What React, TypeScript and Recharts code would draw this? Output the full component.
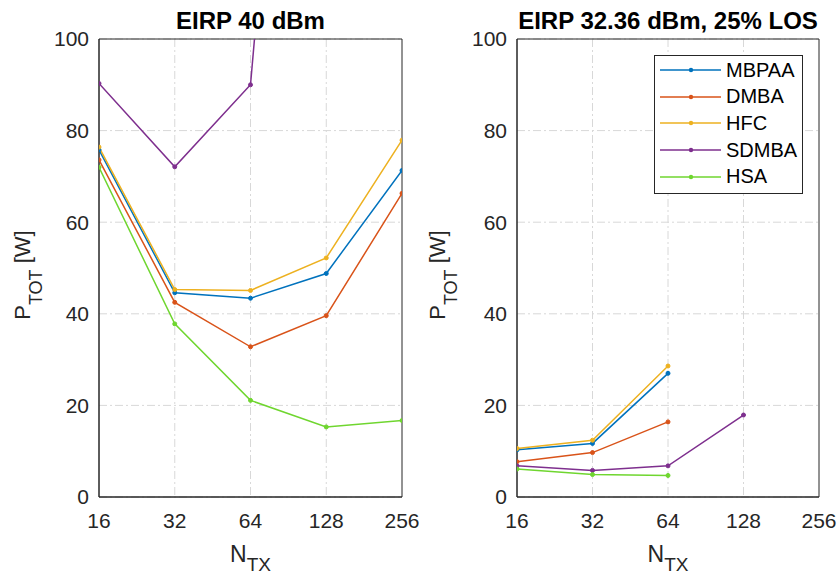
import { CartesianGrid, Line, LineChart, ReferenceArea, XAxis, YAxis } from "recharts";

const nTx = [16, 32, 64, 128, 256];
const yTicks = [0, 20, 40, 60, 80, 100];

const seriesNames = ["MBPAA", "DMBA", "HFC", "SDMBA", "HSA"];
const seriesColors = ["#0072BD", "#D95319", "#EDB120", "#7E2F8E", "#6FD62F"];

// EIRP 40 dBm
const mbpaa40 = [75.8, 44.6, 43.4, 48.8, 71.3];
const dmba40 = [73.6, 42.5, 32.8, 39.6, 66.3];
const hfc40 = [76.4, 45.3, 45.1, 52.2, 77.9];
const sdmba40 = [90.3, 72.1, 90.0, 280, null];
const hsa40 = [72.0, 37.8, 21.1, 15.3, 16.7];

// EIRP 32.36 dBm, 25% LOS
const mbpaa32 = [10.3, 11.7, 27.0, null, null];
const dmba32 = [7.7, 9.7, 16.4, null, null];
const hfc32 = [10.6, 12.4, 28.6, null, null];
const sdmba32 = [6.8, 5.8, 6.8, 17.9, null];
const hsa32 = [6.1, 4.9, 4.7, null, null];

const FONT = '"Liberation Sans", Arial, Helvetica, sans-serif';
const TEXT = "#262626";

type Row = Record<string, number | null>;

function buildRows(series: (number | null)[][]): Row[] {
  return nTx.map((n, i) => {
    const row: Row = { n };
    seriesNames.forEach((name, k) => {
      row[name] = series[k][i];
    });
    return row;
  });
}

const rows40 = buildRows([mbpaa40, dmba40, hfc40, sdmba40, hsa40]);
const rows32 = buildRows([mbpaa32, dmba32, hfc32, sdmba32, hsa32]);

// legend drawn by hand so it doesn't eat into the plot area
function LegendBox({ left, top }: { left: number; top: number }) {
  return (
    <div
      style={{
        position: "absolute",
        left,
        top,
        width: 147,
        border: `1px solid ${TEXT}`,
        background: "#fff",
        padding: "1px 0 3px 0",
        fontFamily: FONT,
        fontSize: 20,
        color: "#000",
      }}
    >
      {seriesNames.map((name, k) => (
        <div key={name} style={{ display: "flex", alignItems: "center", height: 26.6 }}>
          <svg width={70} height={10} style={{ display: "block" }}>
            <line x1={5} x2={66} y1={5} y2={5} stroke={seriesColors[k]} strokeWidth={1.5} />
            <circle cx={36} cy={5} r={2.2} fill={seriesColors[k]} />
          </svg>
          <span style={{ marginLeft: 1 }}>{name}</span>
        </div>
      ))}
    </div>
  );
}

function Panel({
  rows,
  title,
  plotLeft,
  plotWidth,
  yLabelX,
  legend,
}: {
  rows: Row[];
  title: string;
  plotLeft: number;
  plotWidth: number;
  yLabelX: number;
  legend?: boolean;
}) {
  const width = 420;
  const height = 578;
  const top = 39;
  const bottom = 497;
  const cx = plotLeft + plotWidth / 2;
  const cy = (top + bottom) / 2 + 7;
  return (
    <div style={{ position: "relative", width, height }}>
      <div
        style={{
          position: "absolute",
          left: cx - 200,
          width: 400,
          top: 7,
          lineHeight: "28px",
          textAlign: "center",
          fontFamily: FONT,
          fontWeight: "bold",
          fontSize: 24,
          color: "#000",
          whiteSpace: "nowrap",
        }}
      >
        {title}
      </div>
      <LineChart
        width={width}
        height={height}
        data={rows}
        margin={{ top, left: 0, right: width - plotLeft - plotWidth, bottom: 0 }}
        style={{ fontFamily: FONT }}
      >
        <CartesianGrid
          stroke="#d8d8d8"
          strokeDasharray="8 3 2 3"
          verticalValues={[32, 64, 128]}
        />
        <XAxis
          dataKey="n"
          type="number"
          scale="log"
          domain={[16, 256]}
          ticks={nTx}
          allowDataOverflow
          height={height - bottom}
          tickLine={false}
          tickSize={0}
          tickMargin={16}
          axisLine={{ stroke: TEXT }}
          tick={{ fill: TEXT, fontSize: 21 }}
          interval={0}
        />
        <YAxis
          type="number"
          domain={[0, 100]}
          ticks={yTicks}
          allowDataOverflow
          width={plotLeft}
          tickLine={false}
          tickSize={0}
          tickMargin={10}
          axisLine={{ stroke: TEXT }}
          tick={{ fill: TEXT, fontSize: 21 }}
          interval={0}
        />
        {seriesNames.map((name, k) => (
          <Line
            key={name}
            type="linear"
            dataKey={name}
            stroke={seriesColors[k]}
            strokeWidth={1.5}
            dot={{ r: 2, fill: seriesColors[k], stroke: seriesColors[k], strokeWidth: 1 }}
            activeDot={false}
            isAnimationActive={false}
          />
        ))}
        {/* axes box */}
        <ReferenceArea x1={16} x2={256} y1={0} y2={100} fill="none" stroke={TEXT} strokeWidth={1} />
        <text x={cx} y={562} textAnchor="middle" fontSize={23} fill={TEXT} fontFamily={FONT}>
          N
          <tspan dy={9} fontSize={19}>
            TX
          </tspan>
        </text>
        <text
          x={yLabelX}
          y={cy}
          textAnchor="middle"
          fontSize={22}
          fill={TEXT}
          fontFamily={FONT}
          transform={`rotate(-90, ${yLabelX}, ${cy})`}
        >
          P
          <tspan dy={12} fontSize={18}>
            TOT
          </tspan>
          <tspan dy={-12}> [W]</tspan>
        </text>
      </LineChart>
      {legend && <LegendBox left={234} top={55} />}
    </div>
  );
}

export default function App() {
  return (
    <div
      style={{
        position: "absolute",
        left: 0,
        top: 0,
        width: 840,
        height: 578,
        background: "#fff",
        display: "flex",
      }}
    >
      <Panel rows={rows40} title="EIRP 40 dBm" plotLeft={99} plotWidth={303} yLabelX={30} />
      <Panel rows={rows32} title="EIRP 32.36 dBm, 25% LOS" plotLeft={97} plotWidth={302} yLabelX={25} legend />
    </div>
  );
}
